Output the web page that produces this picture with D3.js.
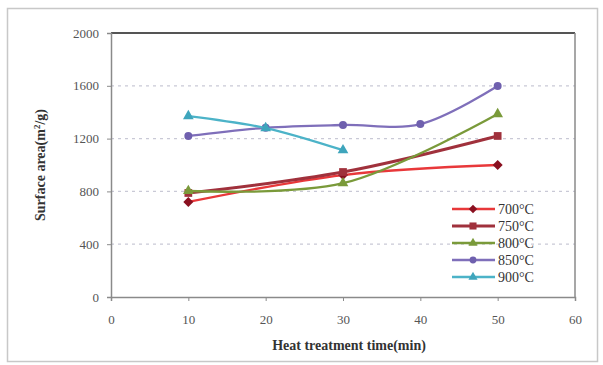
<!DOCTYPE html>
<html>
<head>
<meta charset="utf-8">
<script src="https://cdn.jsdelivr.net/npm/d3@7"></script>
<style>
  body { margin: 0; background: #fff; }
  svg text { font-family: "Liberation Serif", "DejaVu Serif", serif; }
</style>
</head>
<body>
<script>
// data
const times = [10, 20, 30, 40, 50];
const seriesNames = ["700\u00b0C", "750\u00b0C", "800\u00b0C", "850\u00b0C", "900\u00b0C"];
const s700 = [[10, 720], [30, 924], [50, 1000]];
const s750 = [[10, 788], [30, 947], [50, 1220]];
const s800 = [[10, 803], [30, 862], [50, 1386]];
const s850 = [[10, 1220], [20, 1282], [30, 1303], [40, 1310], [50, 1598]];
const s900 = [[10, 1371], [20, 1280], [30, 1112]];
const xTicks = [0, 10, 20, 30, 40, 50, 60];
const yTicks = [0, 400, 800, 1200, 1600, 2000];

const colors  = ["#e8383a", "#a0313c", "#7a9a3a", "#7f6fba", "#4cb3c8"];
const markerColors = ["#8a1020", "#a0313c", "#7a9a3a", "#6f60ae", "#3ea5bc"];
const diamond = {
    draw(ctx, size) {
        const r = Math.sqrt(size / 2);
        ctx.moveTo(0, -r); ctx.lineTo(r, 0); ctx.lineTo(0, r); ctx.lineTo(-r, 0); ctx.closePath();
    }
};
const shapes  = [diamond, d3.symbolSquare, d3.symbolTriangle, d3.symbolCircle, d3.symbolTriangle];
const allSeries = [s700, s750, s800, s850, s900];

const width = 603, height = 365;
const margin = {top: 33, right: 28, bottom: 68, left: 111};

const svg = d3.select("body").append("svg")
    .attr("width", width)
    .attr("height", height);

// outer frame
svg.append("rect")
    .attr("x", 7.5).attr("y", 8.5)
    .attr("width", 590).attr("height", 353)
    .attr("fill", "none")
    .attr("stroke", "#c8c8c8")
    .attr("stroke-width", 1.5);

const xScale = d3.scaleLinear().domain([0, 60]).range([margin.left, width - margin.right]);
const yScale = d3.scaleLinear().domain([0, 2000]).range([height - margin.bottom, margin.top]);

// grid
svg.append("g")
    .selectAll("line")
    .data(yTicks.filter(d => d > 0 && d < 2000))
    .join("line")
    .attr("x1", xScale(0)).attr("x2", xScale(60))
    .attr("y1", d => yScale(d)).attr("y2", d => yScale(d))
    .attr("stroke", "#c9c9d6")
    .attr("stroke-width", 1.2)
    .attr("stroke-dasharray", "3,4");

// plot frame
svg.append("line")
    .attr("x1", xScale(0)).attr("x2", xScale(60))
    .attr("y1", yScale(2000)).attr("y2", yScale(2000))
    .attr("stroke", "#555").attr("stroke-width", 2);
svg.append("line")
    .attr("x1", xScale(60)).attr("x2", xScale(60))
    .attr("y1", yScale(2000)).attr("y2", yScale(0))
    .attr("stroke", "#8a8a8a").attr("stroke-width", 1.5);

const xAxis = svg.append("g")
    .attr("transform", `translate(0,${yScale(0)})`)
    .call(d3.axisBottom(xScale).tickValues(xTicks).tickFormat(d3.format("d")).tickSize(4).tickPadding(14));
const yAxis = svg.append("g")
    .attr("transform", `translate(${xScale(0)},0)`)
    .call(d3.axisLeft(yScale).tickValues(yTicks).tickFormat(d3.format("d")).tickSize(4).tickPadding(8));

[xAxis, yAxis].forEach(ax => {
    ax.attr("font-family", "'Liberation Serif', serif").attr("font-size", 13);
    ax.select(".domain").attr("stroke", "#8a8a8a").attr("stroke-width", 1.5);
    ax.selectAll(".tick line").attr("stroke", "#8a8a8a");
    ax.selectAll(".tick text").attr("fill", "#555");
});

// lines
const line = d3.line()
    .x(d => xScale(d[0]))
    .y(d => yScale(d[1]))
    .curve(d3.curveCatmullRom.alpha(0.5));

allSeries.forEach((s, i) => {
    svg.append("path")
        .datum(s)
        .attr("fill", "none")
        .attr("stroke", colors[i])
        .attr("stroke-width", i === 1 ? 3 : 2.3)
        .attr("d", line);
    svg.append("g")
        .selectAll("path")
        .data(s)
        .join("path")
        .attr("transform", d => `translate(${xScale(d[0])},${yScale(d[1])})`)
        .attr("d", d3.symbol().type(shapes[i]).size(i === 1 ? 60 : 50))
        .attr("fill", markerColors[i]);
});

// legend
const legend = svg.append("g").attr("transform", "translate(452,209)");
seriesNames.forEach((name, i) => {
    const g = legend.append("g").attr("transform", `translate(0,${i * 17})`);
    g.append("line")
        .attr("x1", 0).attr("x2", 43)
        .attr("stroke", colors[i])
        .attr("stroke-width", i === 1 ? 3 : 2.3);
    g.append("path")
        .attr("transform", "translate(21,0)")
        .attr("d", d3.symbol().type(shapes[i]).size(i === 1 ? 50 : 36))
        .attr("fill", markerColors[i]);
    g.append("text")
        .attr("x", 46).attr("y", 5)
        .attr("fill", "#333")
        .style("font-size", "14px")
        .text(name);
});

// axis titles
svg.append("text")
    .attr("x", (xScale(0) + xScale(60)) / 2 + 6)
    .attr("y", 350)
    .attr("text-anchor", "middle")
    .attr("fill", "#333")
    .style("font-size", "14px")
    .style("font-weight", "bold")
    .text("Heat treatment time(min)");

const yTitle = svg.append("text")
    .attr("transform", `translate(45,${(yScale(0) + yScale(2000)) / 2}) rotate(-90)`)
    .attr("text-anchor", "middle")
    .attr("fill", "#333")
    .style("font-size", "14px")
    .style("font-weight", "bold");
yTitle.append("tspan").text("Surface area(m");
yTitle.append("tspan").attr("baseline-shift", "super").style("font-size", "9px").text("2");
yTitle.append("tspan").text("/g)");
</script>
</body>
</html>
